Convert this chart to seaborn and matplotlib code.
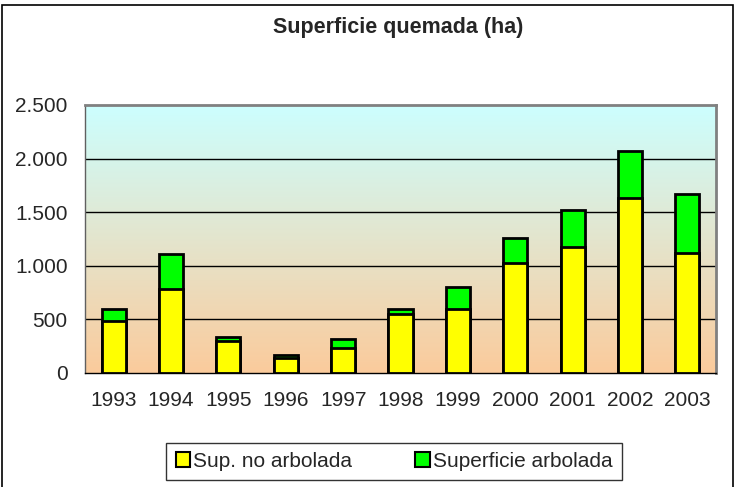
import numpy as np
import pandas as pd
import matplotlib
matplotlib.use("Agg")
import matplotlib.pyplot as plt
import seaborn as sns
from matplotlib.colors import LinearSegmentedColormap
from matplotlib.patches import Patch, Rectangle

years = ["1993", "1994", "1995", "1996", "1997", "1998", "1999", "2000", "2001", "2002", "2003"]
no_arbolada = [481, 783, 295, 136, 236, 546, 593, 1025, 1171, 1631, 1124]
arbolada = [115, 326, 37, 35, 84, 47, 211, 236, 354, 444, 544]
yticks = [0, 500, 1000, 1500, 2000, 2500]
ytick_labels = ["0", "500", "1.000", "1.500", "2.000", "2.500"]

sns.set_style("white")
plt.rcParams['font.family'] = ['Liberation Sans', 'DejaVu Sans']

df = pd.DataFrame({"year": years, "no": no_arbolada, "arb": arbolada})
df["total"] = df["no"] + df["arb"]

fig = plt.figure(figsize=(7.35, 4.87), dpi=100)
fig.patch.set_facecolor("white")
ax = fig.add_axes([85/735, 1-373/487, (716-85)/735, (373-105)/487])

# gradient background
cmap = LinearSegmentedColormap.from_list("bg", ["#FBCB9C", "#CCFFFF"])
grad = np.linspace(0, 1, 256).reshape(-1, 1)
ax.imshow(grad, cmap=cmap, aspect="auto", origin="lower",
          extent=[-0.5, len(years) - 0.5, 0, 2500], zorder=0)

for y in yticks[1:-1]:
    ax.axhline(y, color="black", lw=1.0, zorder=1)

sns.barplot(data=df, x="year", y="total", color="#00FF00", edgecolor="black",
            linewidth=2.0, width=0.42, ax=ax, zorder=2, saturation=1)
sns.barplot(data=df, x="year", y="no", color="#FFFF00", edgecolor="black",
            linewidth=2.0, width=0.42, ax=ax, zorder=3, saturation=1)

ax.set_xlim(-0.5, len(years) - 0.5)
ax.set_ylim(0, 2500)
ax.set_yticks(yticks)
ax.set_yticklabels(ytick_labels, fontsize=15)
ax.set_xticks(np.arange(len(years)) - 0.5, minor=False)
ax.set_xticklabels([])
ax.set_xticks(np.arange(len(years)), minor=True)
ax.set_xticklabels(years, minor=True, fontsize=15)
ax.tick_params(axis="x", which="major", direction="out", length=5.5, width=1, color="black")
ax.tick_params(axis="x", which="minor", length=0, pad=13)
ax.tick_params(axis="y", direction="out", length=5.5, width=1, color="#606060", pad=7)
ax.set_xlabel("")
ax.set_ylabel("")

for side in ["top", "right"]:
    ax.spines[side].set_color("#808080")
    ax.spines[side].set_linewidth(2)
ax.spines["left"].set_color("#606060")
ax.spines["bottom"].set_color("black")
ax.spines["left"].set_linewidth(1)
ax.spines["bottom"].set_linewidth(1)

fig.text(398/735, 1-27/487, "Superficie quemada (ha)", ha="center", va="center",
         fontsize=15.5, fontweight="bold")

handles = [Patch(facecolor="#FFFF00", edgecolor="black", lw=1.5, label="Sup. no arbolada"),
           Patch(facecolor="#00FF00", edgecolor="black", lw=1.5, label="Superficie arbolada")]
leg = fig.legend(handles=handles, loc="center", bbox_to_anchor=(394/735, 1-461.5/487),
                 ncol=2, fontsize=15, frameon=True, fancybox=False,
                 handlelength=0.7, handleheight=0.7, handletextpad=0.15,
                 columnspacing=3.0, borderpad=0.45, borderaxespad=0)
leg.get_frame().set_edgecolor("black")
leg.get_frame().set_linewidth(1)
# widen the frame to match the reference's padding
fig.canvas.draw()
bb = leg.get_frame().get_bbox()
extra = 9.0
leg.get_frame().set_bounds(bb.x0 - extra, bb.y0, bb.width + 2 * extra, bb.height)

# outer chart border
fig.add_artist(Rectangle((2/735, -0.01), 731/735, 1.0, transform=fig.transFigure,
                         fill=False, edgecolor="black", lw=1.2))

fig.savefig("out.png", dpi=100)
